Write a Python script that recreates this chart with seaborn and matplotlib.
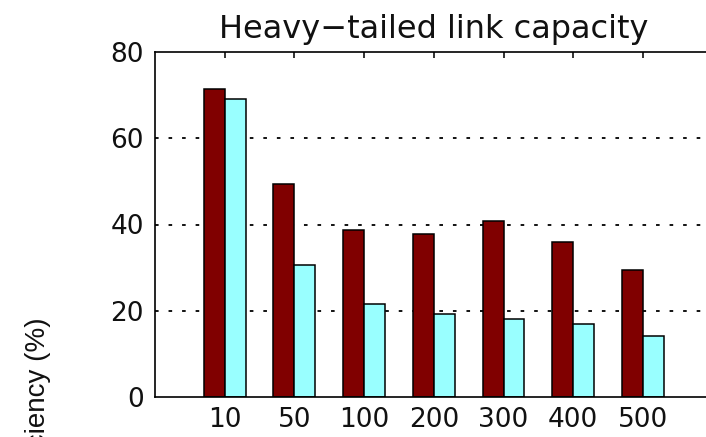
import matplotlib
matplotlib.use("Agg")
import matplotlib.pyplot as plt
import seaborn as sns
import pandas as pd

# Link-capacity categories and efficiency of the two schemes (%)
categories = ["10", "50", "100", "200", "300", "400", "500"]
series_dark = [71.4, 49.3, 38.8, 37.7, 40.9, 35.9, 29.5]
series_light = [69.0, 30.7, 21.5, 19.2, 18.2, 17.0, 14.1]
series_names = ["scheme A", "scheme B"]
y_ticks = [0, 20, 40, 60, 80]

df = pd.DataFrame({
    "capacity": categories * 2,
    "efficiency": series_dark + series_light,
    "scheme": [series_names[0]] * len(categories) + [series_names[1]] * len(categories),
})

sns.set_theme(style="white")
plt.rcParams["font.family"] = ["DejaVu Sans"]

fig = plt.figure(figsize=(7.06, 4.37), dpi=100)
ax = fig.add_axes([155 / 706, 40 / 437, 557.6 / 706, 345 / 437])

sns.barplot(
    data=df, x="capacity", y="efficiency", hue="scheme",
    order=categories, hue_order=series_names,
    palette=["#800000", "#99ffff"], width=0.6,
    edgecolor="black", linewidth=1.1, saturation=1.0,
    legend=False, ax=ax, errorbar=None,
)

ax.set_xlim(-1, 7)
ax.set_ylim(0, 80)
ax.set_yticks(y_ticks)
ax.set_xlabel("")
ax.set_ylabel("")

# dotted horizontal grid
for y in y_ticks[1:-1]:
    ax.axhline(y, color="black", linewidth=1.3, linestyle=(0, (2, 5.5)), zorder=0.5)

ax.tick_params(axis="both", which="both", direction="in", length=4, width=1.2,
               colors="#111111", labelsize=19, top=True, right=True)
ax.tick_params(axis="y", pad=8)
ax.tick_params(axis="x", pad=7)
for sp in ax.spines.values():
    sp.set_color("black")
    sp.set_linewidth(1.2)

ax.set_title("Heavy\u2212tailed link capacity", fontsize=23, color="#111111", pad=10)

fig.text(38 / 706, 1 - 317 / 437, "Efficiency (%)", rotation=90,
         ha="center", va="top", fontsize=20, color="#111111",
         family=["Liberation Sans", "DejaVu Sans"])

fig.savefig("out.png", dpi=100)
